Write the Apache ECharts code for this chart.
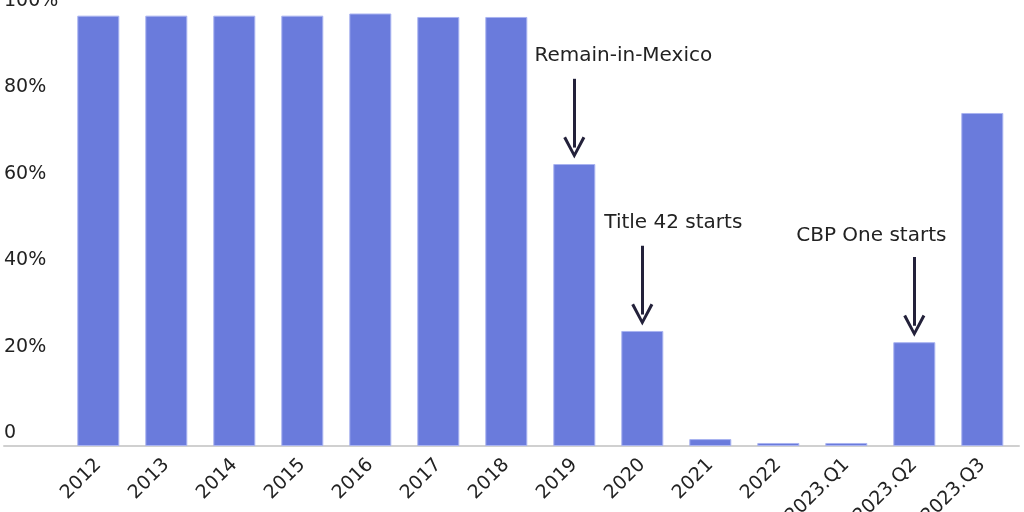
<!DOCTYPE html>
<html>
<head>
<meta charset="utf-8">
<script src="https://cdn.jsdelivr.net/npm/echarts@6/dist/echarts.min.js"></script>
<style>
html,body{margin:0;padding:0;background:#fff;}
#chart{width:1024px;height:512px;}
</style>
</head>
<body>
<div id="chart"></div>
<script>
var categories = ['2012','2013','2014','2015','2016','2017','2018','2019','2020','2021','2022','2023.Q1','2023.Q2','2023.Q3'];
var shareValues = [99.5, 99.5, 99.5, 99.5, 100, 99.2, 99.2, 65.2, 26.6, 1.6, 0.7, 0.7, 24.0, 77.0];
var yTicks = [0, 20, 40, 60, 80, 100];
var annotationCats = ['2019', '2020', '2023.Q2'];
var annotationTexts = ['Remain-in-Mexico', 'Title 42 starts', 'CBP One starts'];

var FONT = 'DejaVu Sans';
var labelDx = [49, 31, -43];
var labelDy = [-108, -108, -106];

function valueOf(cat){ return shareValues[categories.indexOf(cat)]; }

var markPoints = annotationCats.map(function(c, i){
  return {
    coord: [c, valueOf(c)],
    symbol: 'circle', symbolSize: 0,
    label: {
      show: true, position: 'inside', formatter: annotationTexts[i],
      offset: [labelDx[i], labelDy[i]],
      fontFamily: FONT, fontSize: 20, color: '#222'
    }
  };
});
var markLines = annotationCats.map(function(c){
  var v = valueOf(c);
  return [{coord: [c, v + 19.7]}, {coord: [c, v + 3.8]}];
});

var chevron = 'path://M11,0 L22,20.5 L19.3,22 L11,6 L2.7,22 L0,20.5 Z';

var option = {
  animation: false,
  backgroundColor: '#ffffff',
  grid: [
    {left: 64.3, right: 7.7, top: 13.5, bottom: 66, outerBoundsMode: 'none', containLabel: false},
    {left: 4, right: 5, top: 13.5, bottom: 66, outerBoundsMode: 'none', containLabel: false}
  ],
  xAxis: [
    {
      type: 'category', data: categories, gridIndex: 0,
      axisLine: {show: false}, axisTick: {show: false},
      axisLabel: {interval: 0, rotate: 45, margin: 16, fontFamily: FONT, fontSize: 19, color: '#222'}
    },
    {
      type: 'value', gridIndex: 1, min: 0, max: 1,
      axisLine: {show: true, onZero: false, lineStyle: {color: '#d0d0d0', width: 2}},
      axisTick: {show: false}, axisLabel: {show: false}, splitLine: {show: false}
    }
  ],
  yAxis: [
    {
      type: 'value', gridIndex: 0, min: yTicks[0], max: yTicks[yTicks.length-1], interval: 20,
      axisLine: {show: false}, axisTick: {show: false}, splitLine: {show: false},
      axisLabel: {
        align: 'left', margin: 60.3, verticalAlign: 'bottom', lineHeight: 19,
        padding: [0, 0, 3, 0],
        fontFamily: FONT, fontSize: 19, color: '#222',
        formatter: function(v){ return v === 0 ? '0' : v + '%'; }
      }
    },
    {type: 'value', gridIndex: 1, show: false, min: 0, max: 1}
  ],
  series: [{
    type: 'bar', data: shareValues, xAxisIndex: 0, yAxisIndex: 0,
    barWidth: 42,
    itemStyle: {color: '#6a7bdc', borderColor: '#a9b3f0', borderWidth: 1},
    markPoint: {silent: true, data: markPoints},
    markLine: {
      silent: true,
      symbol: ['none', chevron], symbolSize: [22, 22],
      lineStyle: {color: '#23213a', width: 3, type: 'solid'},
      label: {show: false},
      data: markLines
    }
  }]
};

var chart = echarts.init(document.getElementById('chart'), null, {renderer: 'canvas'});
chart.setOption(option);
</script>
</body>
</html>
